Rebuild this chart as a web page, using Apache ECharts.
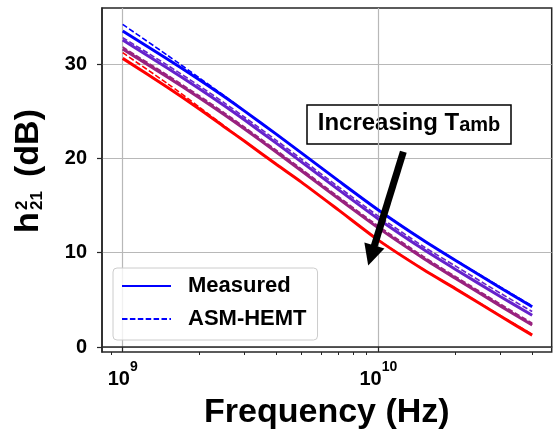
<!DOCTYPE html>
<html>
<head>
<meta charset="utf-8">
<script src="https://cdn.jsdelivr.net/npm/echarts@6/dist/echarts.min.js"></script>
<style>
html,body{margin:0;padding:0;background:#fff;}
#chart{width:555px;height:436px;}
</style>
</head>
<body>
<div id="chart"></div>
<script>
// frequency points (Hz)
const freqs = [1e9, 1.5e9, 2e9, 2.5e9, 3e9, 4e9, 5e9, 7e9, 1e10, 1.5e10, 2e10, 3e10, 4e10];

// measured h21^2 (dB), coolest -> hottest
const meas1 = [33.5, 30.51, 28.31, 26.53, 25.01, 22.54, 20.58, 17.61, 14.53, 11.31, 9.19, 6.28, 4.26];
const meas2 = [32.55, 29.56, 27.36, 25.58, 24.06, 21.59, 19.63, 16.66, 13.58, 10.36, 8.25, 5.36, 3.36];
const meas3 = [31.6, 28.61, 26.41, 24.63, 23.11, 20.64, 18.68, 15.71, 12.63, 9.41, 7.29, 4.36, 2.33];
const meas4 = [30.6, 27.51, 25.21, 23.33, 21.81, 19.34, 17.48, 14.51, 11.33, 8.21, 6.19, 3.28, 1.26];

// ASM-HEMT model (dB)
const model1 = [34.2, 30.91, 28.51, 26.63, 25.03, 22.55, 20.59, 17.62, 14.55, 11.33, 9.24, 6.37, 4.36];
const model2 = [32.8, 29.86, 27.66, 25.88, 24.36, 21.89, 19.93, 16.96, 13.88, 10.66, 8.6, 5.71, 3.76];
const model3 = [31.8, 28.81, 26.61, 24.83, 23.31, 20.84, 18.88, 15.91, 12.83, 9.61, 7.49, 4.56, 2.53];
const model4 = [31.2, 27.91, 25.41, 23.43, 21.83, 19.35, 17.49, 14.52, 11.35, 8.23, 6.23, 3.34, 1.34];

const colors = ['#0000ff', '#6622cc', '#99227f', '#ff0000'];

const xMajor = [1e9, 1e10];
const xMinor = [9e8, 2e9, 3e9, 4e9, 5e9, 6e9, 7e9, 8e9, 9e9, 2e10, 3e10, 4e10];
const yTicks = [0, 10, 20, 30];

// arrow for "Increasing T_amb" (data coords: tail, head)
const arrowTail = [1.253e10, 20.7];
const arrowHead = [9.39e9, 9.7];

const FONT = "'Liberation Sans', Arial, sans-serif";

const pair = (ys) => freqs.map((f, i) => [f, ys[i]]);

const measured = [meas1, meas2, meas3, meas4];
const models = [model1, model2, model3, model4];

const series = [];
measured.forEach((ys, i) => {
    series.push({
        name: 'Measured',
        type: 'line',
        data: pair(ys),
        symbol: 'none',
        smooth: 0.25,
        lineStyle: {color: colors[i], width: 3},
        itemStyle: {color: colors[i]},
        z: 3
    });
    series.push({
        name: 'ASM-HEMT',
        type: 'line',
        data: pair(models[i]),
        symbol: 'none',
        smooth: 0.25,
        lineStyle: {color: colors[i], width: 1.6, type: [5.5, 2.4]},
        itemStyle: {color: colors[i]},
        z: 4
    });
});

series[0].markLine = {
    silent: true,
    symbol: ['none', 'triangle'],
    symbolSize: 21,
    label: {show: false},
    lineStyle: {color: '#000', width: 7, type: 'solid'},
    data: [[{coord: arrowTail}, {coord: arrowHead}]],
    z: 10
};

const chart = echarts.init(document.getElementById('chart'));

const option = {
    animation: false,
    textStyle: {fontFamily: FONT},
    grid: {
        left: 102, right: 3.3, top: 8, bottom: 84,
        show: true, borderColor: '#262626', borderWidth: 1.5,
        outerBoundsMode: 'none'
    },
    legend: {
        orient: 'vertical',
        left: 113, top: 268,
        data: ['Measured', 'ASM-HEMT'],
        itemWidth: 49, itemHeight: 14, itemGap: 11,
        padding: [7, 11, 10, 8],
        backgroundColor: 'rgba(255,255,255,0.8)',
        borderColor: '#cccccc', borderWidth: 1, borderRadius: 4,
        // hide the marker symbol, keep only the line handle
        itemStyle: {color: 'rgba(0,0,0,0)', borderColor: 'rgba(0,0,0,0)', borderWidth: 0, opacity: 0},
        textStyle: {fontSize: 22, fontWeight: 'bold', color: '#000', fontFamily: FONT,
            lineHeight: 22, padding: [0, 0, 0, 12]}
    },
    xAxis: [{
        type: 'log',
        min: 8.30e8, max: 4.769e10,
        axisLine: {show: true, lineStyle: {color: '#262626', width: 1.5}},
        axisTick: {show: true, inside: false, length: 5, customValues: xMajor,
            lineStyle: {color: '#262626', width: 1.2}},
        splitLine: {show: true, lineStyle: {color: '#b8b8b8', width: 1.2}},
        axisLabel: {
            customValues: xMajor,
            margin: 8,
            formatter: (v) => '{b|10}{s|' + Math.round(Math.log10(v)) + '}',
            rich: {
                b: {fontSize: 20, fontWeight: 'bold', color: '#000', fontFamily: FONT, lineHeight: 39, verticalAlign: 'middle'},
                s: {fontSize: 14, fontWeight: 'bold', color: '#000', fontFamily: FONT, lineHeight: 14, verticalAlign: 'top'}
            }
        },
        name: 'Frequency (Hz)',
        nameLocation: 'middle',
        nameGap: 44,
        nameTextStyle: {fontSize: 34, fontWeight: 'bold', color: '#000', fontFamily: FONT}
    }, {
        type: 'log',
        position: 'bottom',
        offset: 0,
        min: 8.30e8, max: 4.769e10,
        axisLine: {show: false},
        axisTick: {show: true, length: 3, customValues: xMinor,
            lineStyle: {color: '#262626', width: 1}},
        splitLine: {show: false},
        axisLabel: {show: false}
    }],
    yAxis: {
        type: 'value',
        min: -0.53, max: 35.94,
        axisLine: {show: true, lineStyle: {color: '#262626', width: 1.5}},
        axisTick: {show: true, length: 5, customValues: yTicks,
            lineStyle: {color: '#262626', width: 1.2}},
        splitLine: {show: true, lineStyle: {color: '#b8b8b8', width: 1.2}},
        axisLabel: {customValues: yTicks, margin: 15, fontSize: 20, fontWeight: 'bold',
            color: '#000', fontFamily: FONT}
    },
    graphic: [{
        type: 'group',
        x: 40, y: 233,
        rotation: Math.PI / 2,
        children: [
            {type: 'text', x: 0, y: -11.8, style: {text: 'h', fontSize: 34, fontWeight: 'bold',
                fontFamily: FONT, fill: '#000', align: 'left', verticalAlign: 'middle'}},
            {type: 'text', x: 23, y: -17.9, style: {text: '2', fontSize: 17, fontWeight: 'bold',
                fontFamily: FONT, fill: '#000', align: 'left', verticalAlign: 'middle'}},
            {type: 'text', x: 23, y: -2.6, style: {text: '21', fontSize: 17, fontWeight: 'bold',
                fontFamily: FONT, fill: '#000', align: 'left', verticalAlign: 'middle'}},
            {type: 'text', x: 56, y: -11.8, style: {text: '(dB)', fontSize: 34, fontWeight: 'bold',
                fontFamily: FONT, fill: '#000', align: 'left', verticalAlign: 'middle'}}
        ]
    }, {
        type: 'group',
        z: 100,
        children: [
            {type: 'rect', shape: {x: 307, y: 105, width: 204, height: 39},
                style: {fill: '#fff', stroke: '#000', lineWidth: 1.5}},
            {type: 'text', x: 409, y: 123.5, style: {
                text: '{m|Increasing T}{s|amb}',
                align: 'center', verticalAlign: 'middle',
                rich: {
                    m: {fontSize: 24, fontWeight: 'bold', fontFamily: FONT, fill: '#000', lineHeight: 24, verticalAlign: 'bottom'},
                    s: {fontSize: 20, fontWeight: 'bold', fontFamily: FONT, fill: '#000', lineHeight: 16, verticalAlign: 'bottom'}
                }
            }}
        ]
    }],
    series: series
};

chart.setOption(option);
</script>
</body>
</html>
